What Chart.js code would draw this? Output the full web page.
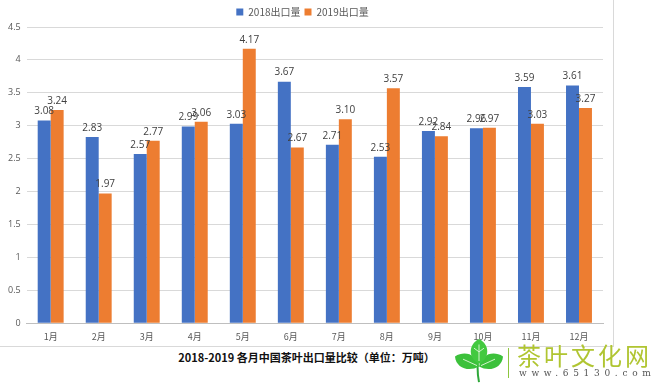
<!DOCTYPE html>
<html>
<head>
<meta charset="utf-8">
<script src="https://cdn.jsdelivr.net/npm/chart.js@4"></script>
<style>
  body { margin: 0; background: #fff; width: 658px; height: 391px; overflow: hidden; position: relative; font-family: "Microsoft YaHei", "Noto Sans CJK SC", sans-serif; }
  #frame { position: absolute; left: 0; top: 0; width: 613px; height: 346px; border-right: 1px solid #d9d9d9; border-bottom: 1px solid #d9d9d9; }
  #wrap { position: absolute; left: 0; top: 0; width: 613px; height: 342px; }
  #title { position: absolute; left: 0; width: 613px; top: 349px; text-align: center; font-size: 11px; font-weight: bold; color: #111; }
  #logo { position: absolute; left: 455px; top: 339px; }
  #sep { position: absolute; left: 508px; top: 348px; width: 1px; height: 30px; background: #8cc63f; }
  #brand { position: absolute; left: 517px; top: 343px; font-size: 24px; color: #b0c531; letter-spacing: 3px; line-height: 24px; }
  #url { position: absolute; left: 519px; top: 368px; font-size: 9px; color: #555; letter-spacing: 4.7px; font-family: "DejaVu Serif", serif; }
</style>
</head>
<body>
<div id="frame"></div>
<div id="wrap"><canvas id="chart"></canvas></div>
<div id="title">2018-2019 各月中国茶叶出口量比较（单位：万吨）</div>
<svg id="logo" width="48" height="44" viewBox="0 0 48 48" preserveAspectRatio="none">
  <path d="M24 47 C22 36 22 26 24 14" stroke="#2fa83a" stroke-width="2" fill="none"/>
  <path d="M24 30 C14 36 1 32 0 19 C10 12 22 17 24 30 Z" fill="#3cc13b"/>
  <path d="M24 30 C34 36 47 32 48 19 C38 12 26 17 24 30 Z" fill="#3cc13b"/>
  <path d="M24 27 C13 21 13 6 24 0 C35 6 35 21 24 27 Z" fill="#43c940"/>
  <path d="M24 24 L24 6 M24 14 L19 10 M24 14 L29 10 M22 29 L8 22 M26 29 L40 22" stroke="#d8f5d0" stroke-width="1" fill="none"/>
</svg>
<div id="sep"></div>
<div id="brand">茶叶文化网</div>
<div id="url">www.65130.com</div>
<script>
const months = ["1月", "2月", "3月", "4月", "5月", "6月", "7月", "8月", "9月", "10月", "11月", "12月"];
const export2018 = [3.08, 2.83, 2.57, 2.99, 3.03, 3.67, 2.71, 2.53, 2.92, 2.96, 3.59, 3.61];
const export2019 = [3.24, 1.97, 2.77, 3.06, 4.17, 2.67, 3.10, 3.57, 2.84, 2.97, 3.03, 3.27];
const yTicks = [0, 0.5, 1, 1.5, 2, 2.5, 3, 3.5, 4, 4.5];

// value labels above each bar
const barLabels = {
  id: "barLabels",
  afterDatasetsDraw(chart) {
    const c = chart.ctx;
    c.save();
    c.font = "10px 'Open Sans', sans-serif";
    c.fillStyle = "#404040";
    c.textAlign = "center";
    c.textBaseline = "bottom";
    chart.data.datasets.forEach((ds, i) => {
      chart.getDatasetMeta(i).data.forEach((bar, j) => {
        c.fillText(ds.data[j].toFixed(2), bar.x, bar.y - 4);
      });
    });
    c.restore();
  },
};

new Chart(document.getElementById("chart"), {
  type: "bar",
  data: {
    labels: months,
    datasets: [
      { label: "2018出口量", data: export2018, backgroundColor: "#4472c4", categoryPercentage: 0.54, barPercentage: 1 },
      { label: "2019出口量", data: export2019, backgroundColor: "#ed7d31", categoryPercentage: 0.54, barPercentage: 1 },
    ],
  },
  options: {
    responsive: true,
    maintainAspectRatio: false,
    animation: false,
    layout: { padding: { left: 2, right: 10, top: 3, bottom: 0 } },
    plugins: {
      legend: {
        position: "top",
        labels: {
          boxWidth: 7,
          boxHeight: 7,
          padding: 4,
          color: "#595959",
          font: { size: 10, family: "'Noto Sans CJK SC', sans-serif" },
        },
      },
      tooltip: { enabled: false },
    },
    scales: {
      x: {
        grid: { display: false },
        border: { color: "#bfbfbf" },
        ticks: { color: "#595959", font: { size: 9, family: "'Noto Sans CJK SC', sans-serif" }, padding: 0 },
      },
      y: {
        min: 0,
        max: 4.5,
        afterBuildTicks: (axis) => { axis.ticks = yTicks.map((v) => ({ value: v })); },
        grid: { color: "#d9d9d9", drawTicks: false },
        border: { display: false },
        ticks: { color: "#595959", font: { size: 9, family: "'Open Sans', sans-serif" }, padding: 6, callback: (v) => String(v) },
      },
    },
  },
  plugins: [barLabels],
});
</script>
</body>
</html>
